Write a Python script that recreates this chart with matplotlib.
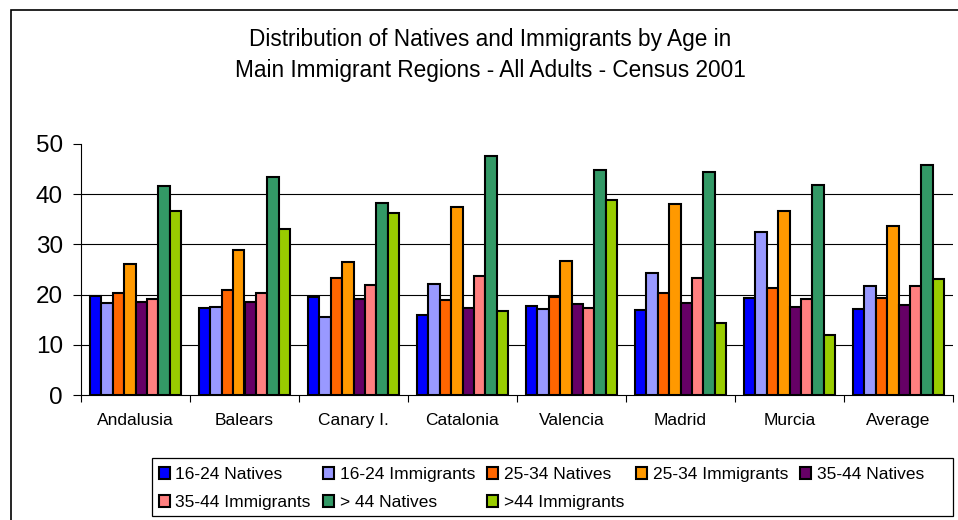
import matplotlib
matplotlib.use("Agg")
import matplotlib.pyplot as plt
from matplotlib.patches import Rectangle
import numpy as np

plt.rcParams['font.family'] = ['Liberation Sans', 'DejaVu Sans']

regions = ["Andalusia", "Balears", "Canary I.", "Catalonia", "Valencia",
           "Madrid", "Murcia", "Average"]

series_names = ["16-24 Natives", "16-24 Immigrants", "25-34 Natives",
                "25-34 Immigrants", "35-44 Natives", "35-44 Immigrants",
                "> 44 Natives", ">44 Immigrants"]

natives_16_24 = [19.7, 17.4, 19.5, 16.0, 17.8, 16.9, 19.3, 17.1]
immigrants_16_24 = [18.3, 17.6, 15.6, 22.1, 17.2, 24.4, 32.4, 21.7]
natives_25_34 = [20.4, 20.9, 23.4, 18.9, 19.5, 20.4, 21.3, 19.3]
immigrants_25_34 = [26.0, 28.9, 26.4, 37.5, 26.6, 38.1, 36.6, 33.7]
natives_35_44 = [18.5, 18.5, 19.2, 17.4, 18.1, 18.3, 17.6, 18.0]
immigrants_35_44 = [19.2, 20.4, 22.0, 23.8, 17.4, 23.4, 19.2, 21.7]
natives_45_plus = [41.6, 43.4, 38.3, 47.7, 44.8, 44.4, 41.9, 45.9]
immigrants_45_plus = [36.6, 33.1, 36.2, 16.8, 38.9, 14.4, 12.0, 23.2]

series = [natives_16_24, immigrants_16_24, natives_25_34, immigrants_25_34,
          natives_35_44, immigrants_35_44, natives_45_plus, immigrants_45_plus]

colors = ["#0000FF", "#9999FF", "#FF6600", "#FF9900",
          "#660066", "#FF8080", "#339966", "#99CC00"]

fig = plt.figure(figsize=(9.58, 5.20), dpi=100)
ax = fig.add_axes([81/958, 125/520, 872/958, 251/520])

x = np.arange(len(regions))
w = 0.1055
bars = []
for i, (vals, name, c) in enumerate(zip(series, series_names, colors)):
    b = ax.bar(x + (i - 3.5) * w, vals, width=w, color=c, edgecolor="black",
               linewidth=1.5, label=name, zorder=3)
    bars.append(b)

ax.set_xlim(-0.5, len(regions) - 0.5)
ax.set_ylim(0, 50)
ax.set_yticks([0, 10, 20, 30, 40, 50])
ax.tick_params(axis='y', labelsize=17.5, length=6, width=0.8, pad=7)
ax.set_xticks(x)
ax.set_xticklabels(regions)
ax.set_xticks(np.arange(len(regions) + 1) - 0.5, minor=True)
ax.tick_params(axis='x', which='major', length=0, labelsize=12.5, pad=13)
ax.tick_params(axis='x', which='minor', length=5, width=0.8)

ax.yaxis.grid(True, color="black", linewidth=0.8, zorder=0)
ax.get_ygridlines()[-1].set_visible(False)
ax.get_ygridlines()[0].set_visible(False)
for s in ["top", "right"]:
    ax.spines[s].set_visible(False)
for s in ["left", "bottom"]:
    ax.spines[s].set_linewidth(0.8)

fig.text(490/958, 1 - 55/520,
         "Distribution of Natives and Immigrants by Age in\n"
         "Main Immigrant Regions - All Adults - Census 2001",
         ha="center", va="center", fontsize=16.3, linespacing=1.4)

# legend filled row by row: 5 entries on top, 3 below
order = [0, 5, 1, 6, 2, 7, 3, 4]
leg = fig.legend([bars[k] for k in order], [series_names[k] for k in order],
                 loc="upper left", ncol=5,
                 bbox_to_anchor=(159/958, 1 - 467/520),
                 fontsize=12.5, frameon=False,
                 handlelength=0.65, handleheight=0.65, handletextpad=0.3,
                 labelspacing=0.75, borderpad=0, columnspacing=0.7,
                 borderaxespad=0)

# legend box
fig.add_artist(Rectangle((152/958, 1 - 516/520), 801/958, 58/520,
                         transform=fig.transFigure, fill=False,
                         edgecolor="black", linewidth=0.9))

# outer chart border
fig.add_artist(Rectangle((11/958, -0.1), 1.1, 1.1 - 10/520,
                         transform=fig.transFigure, fill=False,
                         edgecolor="black", linewidth=1.2))

fig.savefig("out.png", dpi=100)
